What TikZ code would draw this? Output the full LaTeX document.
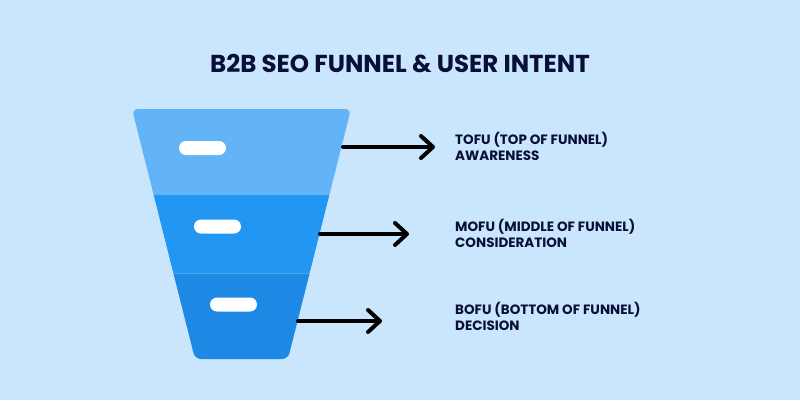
\documentclass[tikz,border=0pt]{standalone}
\usepackage{fontspec}
\setmainfont{Poppins}
\usetikzlibrary{arrows.meta}

\definecolor{bgblue}{HTML}{CAE6FD}
\definecolor{topband}{HTML}{63B4F6}
\definecolor{midband}{HTML}{2196F3}
\definecolor{lowband}{HTML}{1E88E5}
\definecolor{navy}{HTML}{0A0F38}

\tikzset{
  pill/.style={fill=white, rounded corners=7pt, minimum width=47pt, minimum height=14pt, inner sep=0pt},
  stage/.style={anchor=west, align=left, inner sep=0pt, text=navy,
    font=\fontsize{13.5}{16}\selectfont\bfseries},
  pointer/.style={line width=4pt, line cap=round, -{Straight Barb[length=12pt,width=22pt,round]}, shorten >=20pt}
}

\begin{document}
\begin{tikzpicture}[x=1pt, y=-1pt]
  \fill [bgblue] (0,0) rectangle (800,400);
  \useasboundingbox (0,0) rectangle (800,400);

  \node (title) [text=navy, font=\fontsize{24.5}{30}\selectfont\bfseries, anchor=base] at (400,72) {B2B SEO FUNNEL \& USER INTENT};

  % funnel
  \begin{scope}
    \clip [rounded corners=6pt] (132,109) -- (351,109) -- (288,359) -- (195,359) -- cycle;
    \fill [topband] (120,100) rectangle (360,195);
    \fill [midband] (120,195) rectangle (360,273);
    \fill [lowband] (120,273) rectangle (360,370);
    \draw [white, opacity=0.25, line width=0.6pt] (120,273) -- (360,273);
  \end{scope}

  \node (pill1) [pill] at (202.5,148) {};
  \node (pill2) [pill] at (217.5,226.5) {};
  \node (pill3) [pill] at (233.5,304.5) {};

  % labels
  \node (tofu) [stage] at (455,146) {TOFU (TOP OF FUNNEL)\\AWARENESS};
  \node (mofu) [stage] at (455,233) {MOFU (MIDDLE OF FUNNEL)\\CONSIDERATION};
  \node (bofu) [stage] at (455,316) {BOFU (BOTTOM OF FUNNEL)\\DECISION};

  % arrows
  \coordinate (edge1) at (343,147);
  \coordinate (edge2) at (320,234);
  \coordinate (edge3) at (298,321);
  \coordinate (tip1) at (455,147);
  \coordinate (tip2) at (429,234);
  \coordinate (tip3) at (402,321);
  \draw [pointer] (edge1) -- (tip1);
  \draw [pointer] (edge2) -- (tip2);
  \draw [pointer] (edge3) -- (tip3);
\end{tikzpicture}
\end{document}
